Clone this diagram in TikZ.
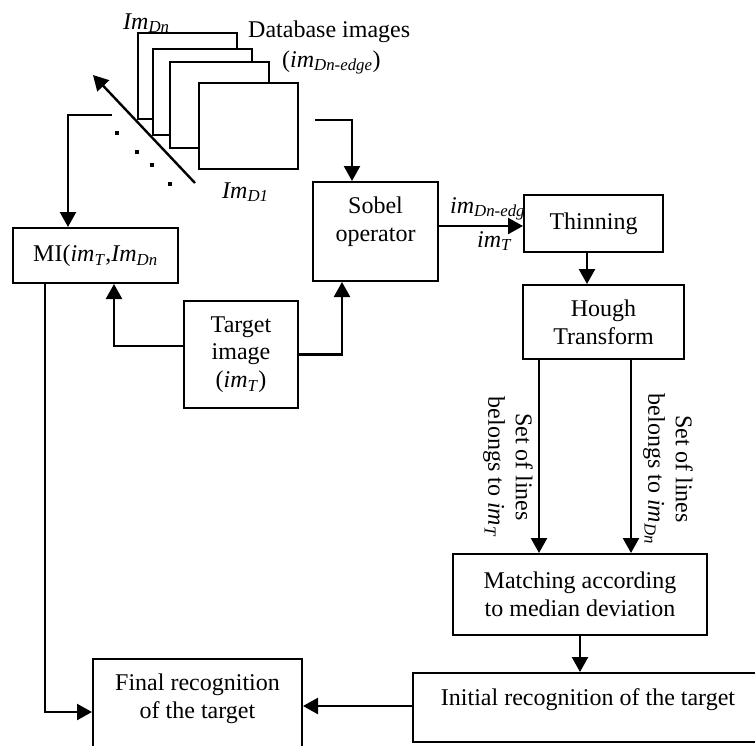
\documentclass[tikz,border=0pt]{standalone}
\usepackage{fontspec}
\setmainfont{Liberation Serif}
\usetikzlibrary{arrows.meta,calc}
\begin{document}
\begin{tikzpicture}[x=1pt,y=-1pt,
  txt/.style={font=\fontsize{24}{27.6}\selectfont, inner sep=0pt, align=center},
  box/.style={draw, line width=2pt, fill=white, inner sep=0pt, align=center,
              font=\fontsize{24}{27.6}\selectfont},
  imgbox/.style={draw, line width=2pt, fill=white, inner sep=0pt,
                 minimum width=99pt, minimum height=86pt},
  dotsq/.style={fill=black, inner sep=0pt, minimum size=3.5pt},
  arr/.style={line width=2.4pt, -{Triangle[length=15pt,width=16pt]}}
]
\useasboundingbox (0,0) rectangle (755,745);

% stacked database images
\node[imgbox] (img4) at (187.5,76) {};
\node[imgbox] (img3) at (202.5,91.5) {};
\node[imgbox] (img2) at (219,104.5) {};
\node[imgbox] (img1) at (248,125.5) {};

\node[txt, anchor=base west] (lDn) at (123,29) {\textit{Im}\textsubscript{\textit{Dn}}};
\node[txt, anchor=base west] (lDb) at (248,37) {Database images};
\node[txt, anchor=base west] (lDbe) at (282,67) {(\textit{im}\textsubscript{\textit{Dn-edge}})};
\node[txt, anchor=base west] (lD1) at (222,198) {\textit{Im}\textsubscript{\textit{D1}}};

% dots and diagonal arrow
\node[dotsq] (d1) at (117,133) {};
\node[dotsq] (d2) at (137,152) {};
\node[dotsq] (d3) at (152,165) {};
\node[dotsq] (d4) at (170,184) {};
\coordinate (diagS) at (195,183);
\coordinate (diagE) at (93,75);
\draw[arr] (diagS) -- (diagE);

% boxes
\node[box, minimum width=165pt, minimum height=55pt] (mi) at (95.5,255.5)
  {MI(\textit{im}\textsubscript{\textit{T}},\textit{Im}\textsubscript{\textit{Dn}}};
\node[box, minimum width=125pt, minimum height=99pt] (sobel) at (375.5,231.5) {};
\node[txt] (sobeltxt) at (375.5,222) {Sobel\\operator};
\node[box, minimum width=114pt, minimum height=107pt] (target) at (241,354.5)
  {Target\\image\\(\textit{im}\textsubscript{\textit{T}})};

% labels on sobel -> thinning (drawn before Thinning so it is covered)
\node[txt, anchor=base west] (lsobA) at (450,213) {\textit{im}\textsubscript{\textit{Dn-edge}}};
\node[txt, anchor=base west] (lsobB) at (477,247) {\textit{im}\textsubscript{\textit{T}}};

\node[box, minimum width=139pt, minimum height=57pt] (thin) at (593.5,223.5) {Thinning};
\node[box, minimum width=161pt, minimum height=74pt] (hough) at (603.5,322) {Hough\\Transform};
\node[box, minimum width=254pt, minimum height=81pt] (match) at (580,594.5)
  {Matching according\\to median deviation};
\node[box, minimum width=350pt, minimum height=69pt] (init) at (588,707.5) {};
\node[txt] (inittxt) at (588,700) {Initial recognition of the target};
\node[box, minimum width=209pt, minimum height=91pt] (final) at (197.5,704.5) {};
\node[txt] (finaltxt) at (197.5,699) {Final recognition\\of the target};

% rotated labels
\node[txt, rotate=-90] (lblT) at (508,467)
  {Set of lines\\belongs to \textit{im}\textsubscript{\textit{T}}};
\node[txt, rotate=-90] (lblD) at (668,469)
  {Set of lines\\belongs to \textit{im}\textsubscript{\textit{Dn}}};

% connectors
\coordinate (dbL) at (112,115);
\draw[arr] (dbL) -| ([xshift=-27.5pt]mi.north);
\coordinate (dbR) at (315,120);
\draw[arr] (dbR) -| ([xshift=-23.5pt]sobel.north);

\coordinate (sobout) at ([yshift=5.5pt]sobel.east);
\draw[arr] (sobout) -- (sobout -| thin.west);

\coordinate (thinout) at ([xshift=-6.5pt]thin.south);
\draw[arr] (thinout) -- (thinout |- hough.north);

\coordinate (houghL) at ([xshift=-64.5pt]hough.south);
\coordinate (houghR) at ([xshift=27.5pt]hough.south);
\draw[arr] (houghL) -- (houghL |- match.north);
\draw[arr] (houghR) -- (houghR |- match.north);

\draw[arr] (match.south) -- (match.south |- init.north);

\coordinate (initout) at ([yshift=1.5pt]init.west);
\draw[arr] (initout) -- (initout -| final.east);

\coordinate (mibot) at ([xshift=-50.5pt]mi.south);
\draw[arr] (mibot) |- ([yshift=-7.5pt]final.west);

\coordinate (targL) at ([yshift=8.5pt]target.west);
\draw[arr] (targL) -| ([xshift=18.5pt]mi.south);
\draw[arr] (target.east) -| ([xshift=-33.5pt]sobel.south);

\end{tikzpicture}
\end{document}
